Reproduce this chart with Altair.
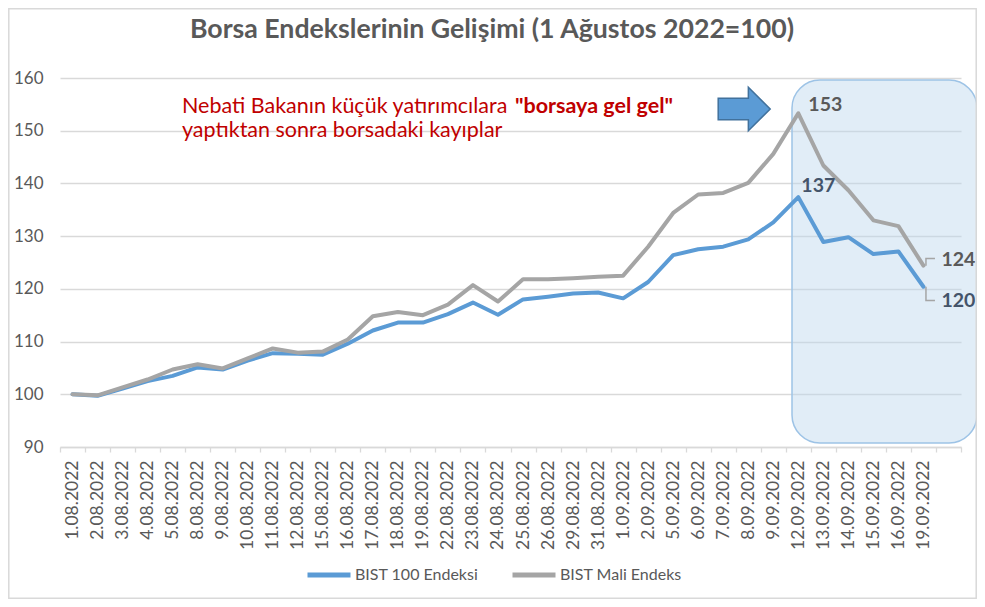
import altair as alt
import pandas as pd

dates = ["1.08.2022", "2.08.2022", "3.08.2022", "4.08.2022", "5.08.2022", "8.08.2022",
         "9.08.2022", "10.08.2022", "11.08.2022", "12.08.2022", "15.08.2022", "16.08.2022",
         "17.08.2022", "18.08.2022", "19.08.2022", "22.08.2022", "23.08.2022", "24.08.2022",
         "25.08.2022", "26.08.2022", "29.08.2022", "31.08.2022", "1.09.2022", "2.09.2022",
         "5.09.2022", "6.09.2022", "7.09.2022", "8.09.2022", "9.09.2022", "12.09.2022",
         "13.09.2022", "14.09.2022", "15.09.2022", "16.09.2022", "19.09.2022"]
blank_slot = "_"

bist100 = [100.0, 99.7, 101.1, 102.5, 103.5, 105.1, 104.7, 106.4, 107.8, 107.7, 107.5, 109.6,
           112.1, 113.6, 113.6, 115.2, 117.4, 115.1, 118.0, 118.5, 119.1, 119.3, 118.2, 121.3,
           126.4, 127.5, 128.0, 129.4, 132.6, 137.4, 128.9, 129.8, 126.6, 127.1, 120.4]
mali = [100.0, 99.8, 101.3, 102.8, 104.7, 105.7, 104.9, 106.8, 108.7, 107.9, 108.1, 110.4,
        114.8, 115.6, 115.0, 117.0, 120.7, 117.6, 121.8, 121.8, 122.0, 122.3, 122.5, 128.0,
        134.4, 137.9, 138.2, 140.1, 145.6, 153.3, 143.4, 138.7, 133.0, 131.9, 124.4]

s1 = "BIST 100 Endeksi"
s2 = "BIST Mali Endeks"
y_ticks = [90, 100, 110, 120, 130, 140, 150, 160]

title_text = "Borsa Endekslerinin Gelişimi (1 Ağustos 2022=100)"
note_regular = "Nebati Bakanın küçük yatırımcılara"
note_bold = "\"borsaya gel gel\""
note_line2 = "yaptıktan sonra borsadaki kayıplar"

BLUE = "#5B9BD5"
GRAY = "#A5A5A5"
TXT = "#595959"
DARKBLUE = "#44546A"
RED = "#C00000"
FONT = "Lato"
AX_FS = 17.5

rows = []
for d, a, b in zip(dates, bist100, mali):
    rows.append({"date": d, "series": s1, "value": a})
    rows.append({"date": d, "series": s2, "value": b})
df = pd.DataFrame(rows)

domain = dates + [blank_slot]
x_enc = alt.X(
    "date:N",
    sort=domain,
    bandPosition=0.5,
    scale=alt.Scale(type="band", domain=domain, paddingInner=0, paddingOuter=0),
    axis=alt.Axis(
        title=None, grid=False, labelAngle=-90, tickBand="extent", tickSize=5,
        labelPadding=8, domainColor="#D9D9D9", domainWidth=1.3, tickColor="#D9D9D9",
        tickWidth=1.3, labelFont=FONT, labelFontSize=AX_FS, labelColor=TXT,
        labelExpr="datum.value == '_' ? '' : datum.label",
    ),
)
y_enc = alt.Y(
    "value:Q",
    scale=alt.Scale(domain=[90, 160], nice=False, zero=False),
    axis=alt.Axis(
        title=None, values=y_ticks, grid=True, gridColor="#D9D9D9", gridWidth=1.3,
        domain=False, ticks=False, labelPadding=17, labelFont=FONT, labelFontSize=17,
        labelColor=TXT,
    ),
)

one = pd.DataFrame({"k": [0]})

# highlight box
box = alt.Chart(one).mark_rect(
    cornerRadius=28, fill="#BDD7EE", fillOpacity=0.45, stroke="#9DC3E6", strokeWidth=1.5
).encode(x=alt.value(732), x2=alt.value(917), y=alt.value(2), y2=alt.value(365))

lines = alt.Chart(df).mark_line(strokeWidth=4, strokeJoin="round", strokeCap="round").encode(
    x=x_enc,
    y=y_enc,
    color=alt.Color(
        "series:N",
        scale=alt.Scale(domain=[s1, s2], range=[BLUE, GRAY]),
        legend=alt.Legend(
            title=None, orient="none", direction="horizontal", legendX=245, legendY=473,
            symbolType="stroke", symbolSize=1849, symbolStrokeWidth=5, labelOffset=2,
            columnPadding=23, padding=0, labelFont=FONT, labelFontSize=16, labelColor=TXT,
        ),
    ),
)

peak_date = "12.09.2022"
last_date = dates[-1]


def label_layer(series, date, color, dx, dy):
    sub = df[(df.series == series) & (df.date == date)].copy()
    sub["label"] = sub["value"].round().astype(int).astype(str)
    return alt.Chart(sub).mark_text(
        align="left", baseline="middle", dx=dx, dy=dy, font=FONT, fontSize=19.5,
        fontWeight="bold", color=color,
    ).encode(x=x_enc, y=y_enc, text="label:N")


lab153 = label_layer(s2, peak_date, TXT, 10, -8.5)
lab137 = label_layer(s1, peak_date, DARKBLUE, 3, -11)
lab124 = label_layer(s2, last_date, TXT, 18, -6)
lab120 = label_layer(s1, last_date, DARKBLUE, 18, 14.5)


def leader(series, path):
    sub = df[(df.series == series) & (df.date == last_date)]
    return alt.Chart(sub).mark_point(
        shape=path, size=400, filled=False, stroke=GRAY, strokeWidth=1.5, opacity=1
    ).encode(x=x_enc, y=y_enc)


lead124 = leader(s2, "M0.25,0 L0.25,-0.72 L1.15,-0.72")
lead120 = leader(s1, "M0.25,0 L0.25,1.38 L1.15,1.38")

arrow = alt.Chart(one).mark_point(
    shape="M-1,-0.415 L0.16,-0.415 L0.16,-0.835 L1,0 L0.16,0.835 L0.16,0.415 L-1,0.415 Z",
    size=2704, filled=True, fill=BLUE, stroke="#41719C", strokeWidth=1.5, opacity=1,
).encode(x=alt.value(684.2), y=alt.value(31))

NOTE_FS = 21.5
note1 = alt.Chart(one).mark_text(
    text=note_regular, align="left", baseline="alphabetic", font=FONT, fontSize=NOTE_FS,
    color=RED,
).encode(x=alt.value(122), y=alt.value(35.3))
note1b = alt.Chart(one).mark_text(
    text=note_bold, align="left", baseline="alphabetic", font=FONT, fontSize=NOTE_FS,
    fontWeight="bold", color=RED,
).encode(x=alt.value(455), y=alt.value(35.3))
note2 = alt.Chart(one).mark_text(
    text=note_line2, align="left", baseline="alphabetic", font=FONT, fontSize=NOTE_FS,
    color=RED,
).encode(x=alt.value(122), y=alt.value(58.7))

title = alt.Chart(one).mark_text(
    text=title_text, align="center", baseline="alphabetic", font=FONT, fontSize=26.7,
    fontWeight="bold", color=TXT,
).encode(x=alt.value(432), y=alt.value(-40))

border = alt.Chart(one).mark_rect(fillOpacity=0, stroke="#D9D9D9", strokeWidth=1.5).encode(
    x=alt.value(-51.2), x2=alt.value(916.2), y=alt.value(-69.2), y2=alt.value(520.2)
)

chart = alt.layer(
    box, lines, lead124, lead120, lab153, lab137, lab124, lab120, arrow, note1, note1b,
    note2, title, border,
).properties(
    width=901, height=369, autosize="none",
    padding={"left": 52, "top": 70, "right": 16, "bottom": 152},
    background="white",
).configure_view(strokeWidth=0)

chart.save("out.html", embed_options={"renderer": "svg", "actions": False})
